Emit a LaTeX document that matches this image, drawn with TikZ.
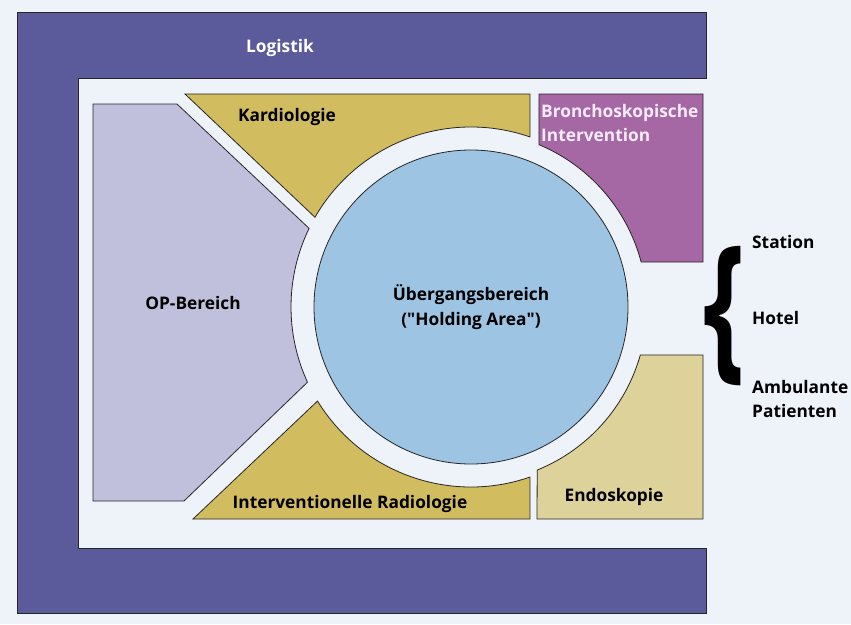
\documentclass[tikz,border=0pt]{standalone}
\usepackage{fontspec}
\setmainfont{Open Sans}
\usepackage{xcolor}
\usepackage{tikz}
\usetikzlibrary{calc}
\definecolor{pagecol}{RGB}{238,242,249}
\definecolor{logcol}{RGB}{91,91,155}
\definecolor{opcol}{RGB}{192,192,221}
\definecolor{kardcol}{RGB}{210,188,96}
\definecolor{broncol}{RGB}{166,104,164}
\definecolor{endocol}{RGB}{221,211,154}
\definecolor{holdcol}{RGB}{158,196,228}
\definecolor{brontext}{RGB}{248,236,248}
\tikzset{
    area/.style   = {draw=black!85, line width=0.8pt, line join=miter},
    lbl/.style    = {font=\bfseries\fontsize{17.3}{24.5}\selectfont, align=center,
                     inner sep=0pt},
    sidelbl/.style = {lbl, anchor=west, align=left},
    bracelbl/.style = {font=\bfseries\fontsize{160}{160}\selectfont, inner sep=0pt, xscale=0.66},
}

\begin{document}
\begin{tikzpicture}[x=1pt, y=-1pt]

\fill[pagecol] (0,0) rectangle (851,624);
\useasboundingbox (0,0) rectangle (851,624);
\coordinate (C) at (471,307);

\draw[area, fill=logcol] (17,12) -- (706,12) -- (706,78) -- (78,78) -- (78,548)
    -- (706,548) -- (706,613) -- (17,613) -- cycle;

\draw[area, fill=opcol] (93,104) -- (177,104) -- ($(C)+(-154.1:180)$)
    arc[start angle=-154.1, end angle=-204.7, radius=180] -- (184,501) -- (93,501) -- cycle;
\draw[area, fill=kardcol] (185,94) -- (530,94) -- ($(C)+(-70.9:180)$)
    arc[start angle=-70.9, end angle=-150.1, radius=180] -- cycle;
\draw[area, fill=kardcol] (193,519) -- ($(C)+(148.5:180)$)
    arc[start angle=148.5, end angle=70.9, radius=180] -- (530,519) -- cycle;
\draw[area, fill=broncol] (539,94) -- (703,94) -- (703,262) -- ($(C)+(-14.8:176)$)
    arc[start angle=-14.8, end angle=-67.3, radius=176] -- cycle;
\draw[area, fill=endocol] (537,519) -- ($(C)+(67.9:176)$)
    arc[start angle=67.9, end angle=15.8, radius=176] -- (703,355) -- (703,519) -- cycle;

\node[area, circle, fill=holdcol, minimum size=314pt, lbl] (hold) at (C)
    {\"Ubergangsbereich\\(\textquotedbl Holding Area\textquotedbl)};

\node[lbl, text=white] (logi) at (280,48) {Logistik};
\node[lbl] (kard) at (287,117) {Kardiologie};
\node[lbl, text=brontext, align=left, anchor=west] (bron) at (541,123)
    {Bronchoskopische\\Intervention};
\node[lbl] (op) at (193,303) {OP-Bereich};
\node[lbl] (rad) at (350,504) {Interventionelle Radiologie};
\node[lbl] (endo) at (614,497) {Endoskopie};

\node[bracelbl] (brace) at (724,316) {\{};
\node[sidelbl] (stat) at (752,242) {Station};
\node[sidelbl] (hotel) at (752,318) {Hotel};
\node[sidelbl] (amb) at (752,399) {Ambulante\\Patienten};

\end{tikzpicture}
\end{document}
